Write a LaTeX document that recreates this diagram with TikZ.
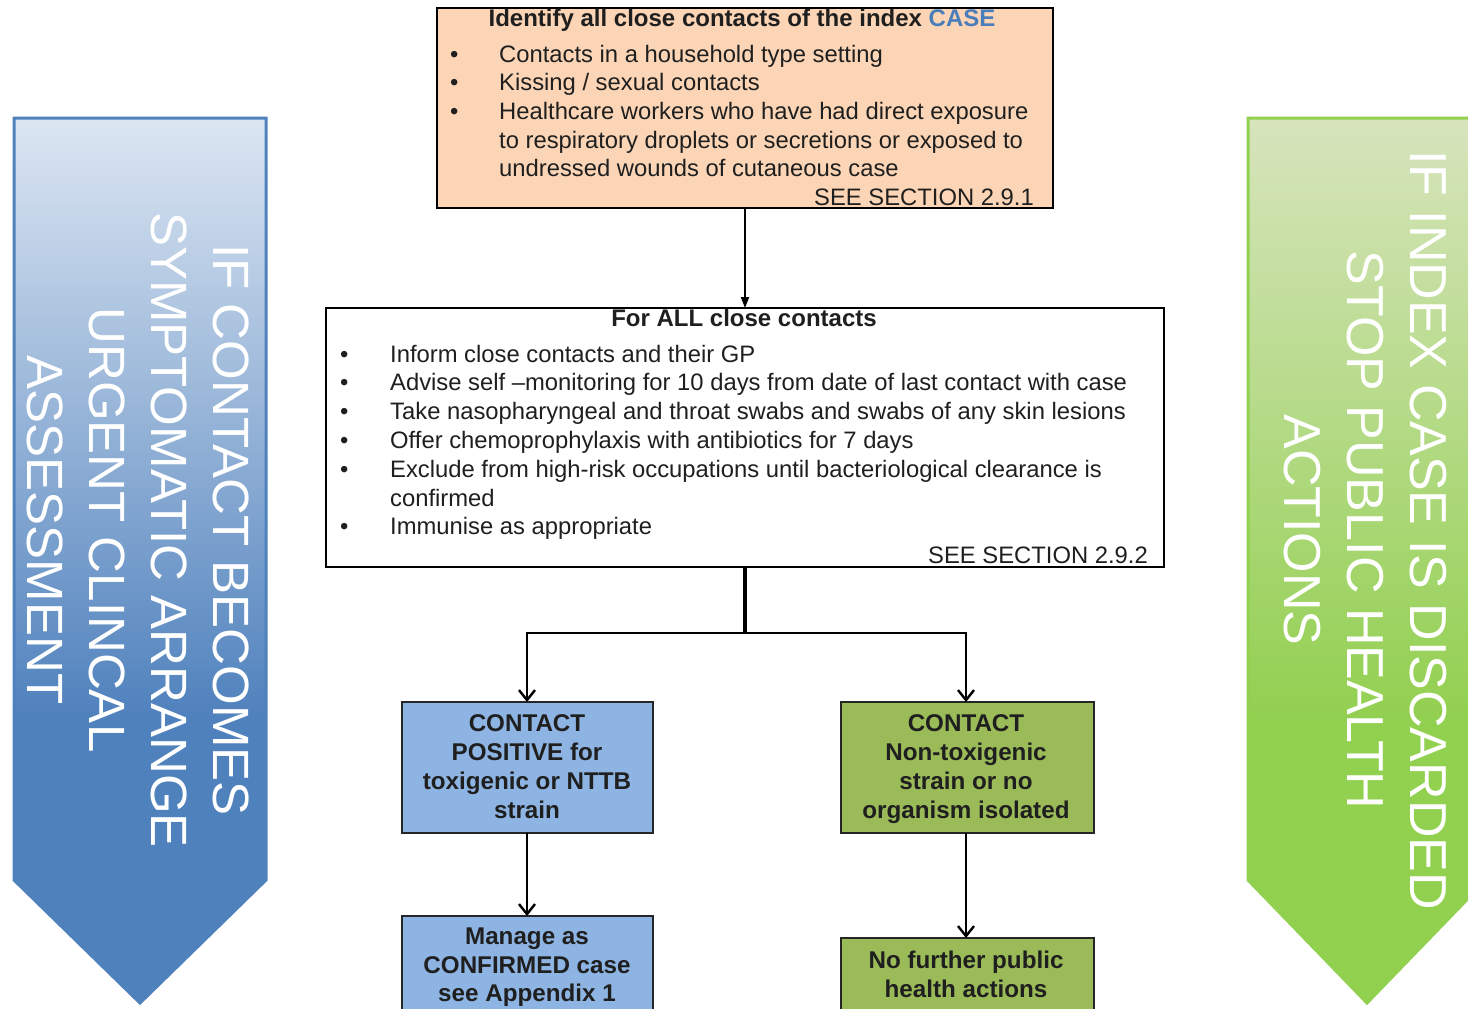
\documentclass[tikz,border=0pt]{standalone}
\usepackage{fontspec}
\setmainfont{Liberation Sans}
\usetikzlibrary{arrows.meta}
\definecolor{peach}{HTML}{FBD5B5}
\definecolor{posblue}{HTML}{8DB4E2}
\definecolor{neggreen}{HTML}{9BBB59}
\definecolor{caseblue}{HTML}{4A7EBB}
\definecolor{bandblue}{HTML}{4F81BD}
\definecolor{bandbluelight}{HTML}{DCE6F2}
\definecolor{bandgreen}{HTML}{92D050}
\definecolor{bandgreenlight}{HTML}{D7E4BD}
\pgfdeclareverticalshading{bluefade}{100bp}{color(0bp)=(bandblue); color(41bp)=(bandblue); color(75bp)=(bandbluelight); color(100bp)=(bandbluelight)}
\pgfdeclareverticalshading{greenfade}{100bp}{color(0bp)=(bandgreen); color(41bp)=(bandgreen); color(75bp)=(bandgreenlight); color(100bp)=(bandgreenlight)}
\tikzset{
  box/.style={draw=black, line width=1.4pt, inner sep=0pt, outer sep=0pt},
  peachbox/.style={box, fill=peach},
  whitebox/.style={box, fill=white, line width=1.2pt},
  posbox/.style={box, fill=posblue, draw=black!85},
  negbox/.style={box, fill=neggreen, draw=black!85},
  txt/.style={inner sep=0pt, anchor=base west, font=\fontsize{23.8}{28}\selectfont, text=black!88},
  rtxt/.style={txt, anchor=base east},
  btxt/.style={inner sep=0pt, anchor=base, font=\bfseries\fontsize{24.2}{28}\selectfont, text=black!88},
  bandtext/.style={inner sep=0pt, text=white, align=center, rotate=-90},
  conn/.style={line width=2.4pt, draw=black},
  barb/.style={conn, -{Straight Barb[length=10pt, width=16pt, line width=2.4pt]}},
  tri/.style={line width=2pt, draw=black, -{Triangle[length=11pt, width=8pt]}}
}
\begin{document}
\begin{tikzpicture}[x=1pt, y=-1pt]
\useasboundingbox (0,0) rectangle (1468,1009);
\clip (0,0) rectangle (1468,1009);
\fill[white] (0,0) rectangle (1468,1009);

% side banners
\shade[shading=bluefade, draw=bandblue, line width=3pt, line join=miter]
  (14,118) -- (266,118) -- (266,880) -- (140,1003) -- (14,880) -- cycle;
\node[bandtext, font=\fontsize{51}{62}\selectfont] (lefttext) at (138.5,530)
  {IF CONTACT BECOMES\\SYMPTOMATIC ARRANGE\\URGENT CLINCAL\\ASSESSMENT};
\shade[shading=greenfade, draw=bandgreen, line width=3pt, line join=miter]
  (1248,118) -- (1486,118) -- (1486,880) -- (1367,1003) -- (1248,880) -- cycle;
\node[bandtext, font=\fontsize{52}{63}\selectfont] (righttext) at (1365,530)
  {IF INDEX CASE IS DISCARDED\\STOP PUBLIC HEALTH\\ACTIONS};

% top box
\node[peachbox, minimum width=616pt, minimum height=200pt] (idbox) at (745,108) {};
\node[inner sep=0pt, anchor=base, font=\bfseries\fontsize{24}{28}\selectfont, text=black!88] (idtitle) at (742,26)
  {Identify all close contacts of the index \textcolor{caseblue}{CASE}};
\node[txt] (idb1) at (450,62) {•};
\node[txt] (idl1) at (499,62) {Contacts in a household type setting};
\node[txt] (idb2) at (450,90) {•};
\node[txt] (idl2) at (499,90) {Kissing / sexual contacts};
\node[txt] (idb3) at (450,119) {•};
\node[txt] (idl3) at (499,119) {Healthcare workers who have had direct exposure};
\node[txt] (idl4) at (499,148) {to respiratory droplets or secretions or exposed to};
\node[txt] (idl5) at (499,176) {undressed wounds of cutaneous case};
\node[rtxt] (idsee) at (1034,205) {SEE SECTION 2.9.1};

% middle box
\node[whitebox, minimum width=838pt, minimum height=259pt] (allbox) at (745,437.5) {};
\node[inner sep=0pt, anchor=base, font=\bfseries\fontsize{24}{28}\selectfont, text=black!88] (alltitle) at (744,326) {For ALL close contacts};
\node[txt] (ab1) at (340,362) {•};
\node[txt] (al1) at (390,362) {Inform close contacts and their GP};
\node[txt] (ab2) at (340,390) {•};
\node[txt] (al2) at (390,390) {Advise self –monitoring for 10 days from date of last contact with case};
\node[txt] (ab3) at (340,419) {•};
\node[txt] (al3) at (390,419) {Take nasopharyngeal and throat swabs and swabs of any skin lesions};
\node[txt] (ab4) at (340,448) {•};
\node[txt] (al4) at (390,448) {Offer chemoprophylaxis with antibiotics for 7 days};
\node[txt] (ab5) at (340,477) {•};
\node[txt] (al5) at (390,477) {Exclude from high-risk occupations until bacteriological clearance is};
\node[txt] (al6) at (390,506) {confirmed};
\node[txt] (ab7) at (340,534) {•};
\node[txt] (al7) at (390,534) {Immunise as appropriate};
\node[rtxt] (allsee) at (1148,563) {SEE SECTION 2.9.2};

% result boxes
\node[posbox, minimum width=251pt, minimum height=131pt] (posbox) at (527.5,767.5) {};
\node[btxt] (p1) at (527,731) {CONTACT};
\node[btxt] (p2) at (527,760) {POSITIVE for};
\node[btxt] (p3) at (527,789) {toxigenic or NTTB};
\node[btxt] (p4) at (527,818) {strain};

\node[negbox, minimum width=253pt, minimum height=131pt] (negbox) at (967.5,767.5) {};
\node[btxt] (n1) at (966,731) {CONTACT};
\node[btxt] (n2) at (966,760) {Non-toxigenic};
\node[btxt] (n3) at (966,789) {strain or no};
\node[btxt] (n4) at (966,818) {organism isolated};

\node[posbox, minimum width=251pt, minimum height=130pt] (manbox) at (527.5,981) {};
\node[btxt] (m1) at (527,944) {Manage as};
\node[btxt] (m2) at (527,973) {CONFIRMED case};
\node[btxt] (m3) at (527,1001) {see Appendix 1};

\node[negbox, minimum width=253pt, minimum height=130pt] (nofbox) at (967.5,1003) {};
\node[btxt] (f1) at (966,968) {No further public};
\node[btxt] (f2) at (966,997) {health actions};

% connectors
\draw[tri] (idbox.south) -- (allbox.north);
\coordinate (split) at (745,633);
\draw[conn, line width=4pt] (allbox.south) -- ([yshift=1.2pt]split);
\draw[barb] (split) -| ([xshift=-0.5pt]posbox.north);
\draw[barb] (split) -| ([xshift=-1.5pt]negbox.north);
\draw[barb] ([xshift=-0.5pt]posbox.south) -- ([xshift=-0.5pt]manbox.north);
\draw[barb] ([xshift=-1.5pt]negbox.south) -- ([xshift=-1.5pt]nofbox.north);
\end{tikzpicture}
\end{document}
